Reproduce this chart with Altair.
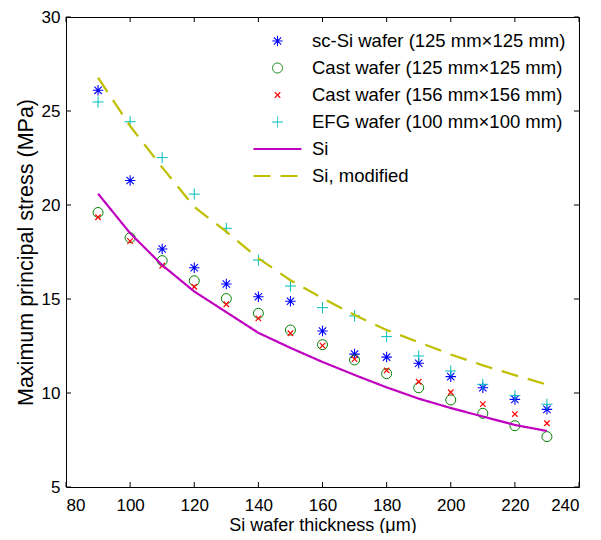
import altair as alt
import pandas as pd

# ---- data ----
thickness = [90, 100, 110, 120, 130, 140, 150, 160, 170, 180, 190, 200, 210, 220, 230]
sc_si = [26.1, 21.3, 17.66, 16.66, 15.8, 15.12, 14.88, 13.3, 12.07, 11.91, 11.58, 10.87, 10.28, 9.66, 9.13]
cast_125 = [19.6, 18.26, 17.04, 15.97, 15.02, 14.24, 13.35, 12.57, 11.76, 11.03, 10.28, 9.63, 8.92, 8.26, 7.68]
cast_156 = [19.35, 18.08, 16.77, 15.65, 14.72, 13.97, 13.18, 12.52, 11.8, 11.2, 10.6, 10.04, 9.41, 8.88, 8.39]
efg = [25.48, 24.43, 22.52, 20.58, 18.76, 17.07, 15.69, 14.54, 14.1, 13.0, 11.97, 11.17, 10.46, 9.86, 9.4]
si_model = [20.6, 18.5, 16.8, 15.4, 14.3, 13.2, 12.4, 11.65, 10.96, 10.3, 9.7, 9.2, 8.75, 8.3, 7.98]
si_modified = [26.77, 24.2, 22.0, 19.9, 18.58, 17.16, 16.0, 15.04, 14.15, 13.35, 12.7, 12.05, 11.47, 10.95, 10.45]

series_names = [
    "sc-Si wafer (125 mm\u00d7125 mm)",
    "Cast wafer (125 mm\u00d7125 mm)",
    "Cast wafer (156 mm\u00d7156 mm)",
    "EFG wafer (100 mm\u00d7100 mm)",
    "Si",
    "Si, modified",
]
x_ticks = [80, 100, 120, 140, 160, 180, 200, 220, 240]
y_ticks = [5, 10, 15, 20, 25, 30]

# ---- styles ----
W, H = 513, 470
TICK = 5
colors = ["#0000FF", "#008000", "#FF0000", "#00BFBF", "#BF00BF", "#BFBF00"]
asterisk = "M-1,0L1,0M0,-1L0,1M-0.7,-0.7L0.7,0.7M-0.7,0.7L0.7,-0.7"
xmark = "M-1,-1L1,1M-1,1L1,-1"
plus = "M-1,0L1,0M0,-1L0,1"
shapes = [asterisk, "circle", xmark, plus, "stroke", "stroke"]
sizes = [110, 100, 30, 121, 2304, 2304]
widths = [1.1, 1, 1.2, 1, 2.2, 2.2]
dashes = [[1, 0], [1, 0], [1, 0], [1, 0], [1, 0], [17, 10]]

point_series = [sc_si, cast_125, cast_156, efg]
line_series = [si_model, si_modified]

pts = pd.DataFrame(
    [
        {"t": t, "v": v, "series": series_names[i]}
        for i, s in enumerate(point_series)
        for t, v in zip(thickness, s)
    ]
)
lns = pd.DataFrame(
    [
        {"t": t, "v": v, "series": series_names[4 + i]}
        for i, s in enumerate(line_series)
        for t, v in zip(thickness, s)
    ]
)
xt = pd.DataFrame({"t": x_ticks})
yt = pd.DataFrame({"v": y_ticks})

FONT = "Liberation Sans"

legend = alt.Legend(
    title=None,
    orient="none",
    legendX=186,
    legendY=14,
    clipHeight=20,
    rowPadding=7,
    labelOffset=9,
    padding=0,
    symbolOffset=0,
    labelFontSize=18.5,
    labelFont=FONT,
    labelColor="black",
    labelLimit=400,
    symbolOpacity=1,
)

color_scale = alt.Scale(domain=series_names, range=colors)
shape_scale = alt.Scale(domain=series_names, range=shapes)
size_scale = alt.Scale(type="ordinal", domain=series_names, range=sizes)
width_scale = alt.Scale(type="ordinal", domain=series_names, range=widths)
dash_scale = alt.Scale(domain=series_names, range=dashes)

x_scale = alt.Scale(domain=[80, 240], nice=False, zero=False)
y_scale = alt.Scale(domain=[5, 30], nice=False, zero=False)

common_axis = dict(
    grid=False,
    domain=False,
    ticks=False,
    labelColor="black",
    labelFont=FONT,
    titleFont=FONT,
    titleColor="black",
    titleFontWeight="normal",
)

x_axis = alt.Axis(
    orient="bottom",
    values=x_ticks,
    labelFontSize=17,
    labelPadding=10,
    title="Si wafer thickness (\u03bcm)",
    titleFontSize=18,
    titleX=W / 2,
    titleY=29,
    **common_axis,
)
y_axis = alt.Axis(
    orient="left",
    values=y_ticks,
    labelFontSize=17,
    labelPadding=6,
    title="Maximum principal stress (MPa)",
    titleFontSize=21.5,
    titleX=-28.5,
    titleY=H / 2,
    **common_axis,
)

X = alt.X("t:Q", scale=x_scale, axis=x_axis)
Y = alt.Y("v:Q", scale=y_scale, axis=y_axis)

points = (
    alt.Chart(pts)
    .mark_point(filled=False, opacity=1)
    .encode(
        x=X,
        y=Y,
        color=alt.Color("series:N", scale=color_scale, legend=legend),
        shape=alt.Shape("series:N", scale=shape_scale, legend=legend),
        size=alt.Size("series:N", scale=size_scale, legend=legend),
        strokeWidth=alt.StrokeWidth("series:N", scale=width_scale, legend=legend),
    )
)

lines = (
    alt.Chart(lns)
    .mark_line()
    .encode(
        x=X,
        y=Y,
        color=alt.Color("series:N", scale=color_scale, legend=legend),
        strokeDash=alt.StrokeDash("series:N", scale=dash_scale, legend=legend),
        strokeWidth=alt.StrokeWidth("series:N", scale=width_scale, legend=legend),
    )
)

# inward ticks on all four sides (MATLAB box style)
tick_mark = dict(color="black", strokeWidth=1)
ticks_bottom = alt.Chart(xt).mark_rule(**tick_mark).encode(
    x=X, y=alt.value(H), y2=alt.value(H - TICK)
)
ticks_top = alt.Chart(xt).mark_rule(**tick_mark).encode(
    x=X, y=alt.value(0), y2=alt.value(TICK)
)
ticks_left = alt.Chart(yt).mark_rule(**tick_mark).encode(
    y=Y, x=alt.value(0), x2=alt.value(TICK)
)
ticks_right = alt.Chart(yt).mark_rule(**tick_mark).encode(
    y=Y, x=alt.value(W), x2=alt.value(W - TICK)
)

chart = (
    alt.layer(points, lines, ticks_bottom, ticks_top, ticks_left, ticks_right)
    .properties(
        width=W,
        height=H,
        autosize=alt.AutoSizeParams(type="none"),
        padding={"left": 58, "top": 9, "right": 14, "bottom": 46},
    )
    .configure(font=FONT)
    .configure_view(stroke="black", strokeWidth=1)
)

chart.save("out.html", embed_options={"renderer": "svg", "actions": False})
